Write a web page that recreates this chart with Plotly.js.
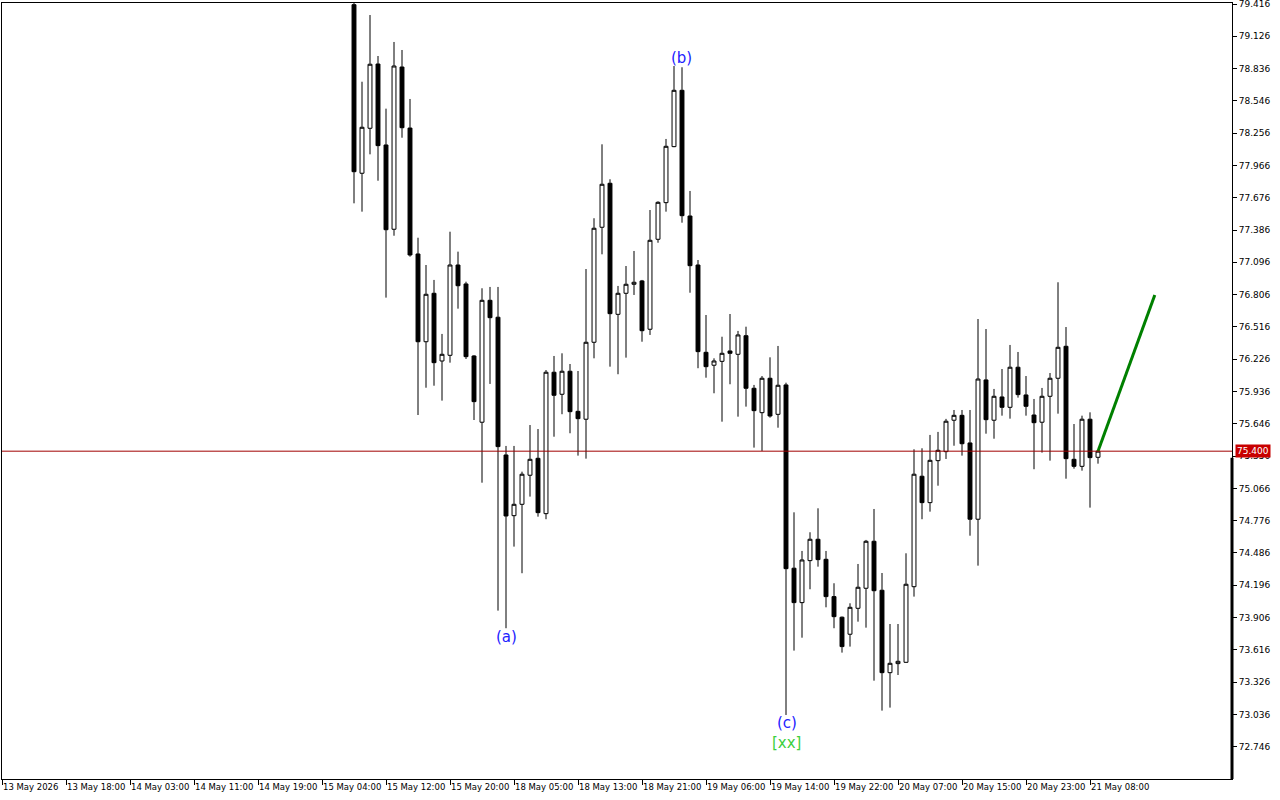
<!DOCTYPE html>
<html>
<head>
<meta charset="utf-8">
<script src="https://cdn.plot.ly/plotly-3.0.1.min.js"></script>
<style>
  html, body { margin: 0; padding: 0; background: #ffffff; }
  #chart { width: 1280px; height: 800px; }
</style>
</head>
<body>
<div id="chart"></div>
<script>
// ---- Hourly OHLC bars, 15 May 08:00 -> 21 May 09:00 (bar index 0..93) ----
const openP = [
  79.410, 77.896, 78.300, 78.877, 78.150, 77.393, 78.850, 78.302, 77.171, 76.383,
  76.818, 76.210, 76.261, 77.072, 76.902, 76.255, 75.660, 76.755, 76.603, 75.366,
  74.821, 74.923, 75.184, 75.336, 74.839, 76.109, 75.911, 76.118, 75.758, 75.687,
  76.378, 77.411, 77.806, 76.629, 76.818, 76.899, 76.929, 76.495, 77.303, 77.632,
  78.135, 78.641, 77.512, 77.072, 76.288, 76.172, 76.207, 76.300, 76.270, 76.437,
  75.965, 75.746, 76.055, 75.731, 75.995, 74.349, 74.040, 74.417, 74.609, 74.429,
  74.094, 73.909, 73.756, 73.989, 74.169, 74.591, 74.151, 73.411, 73.492, 73.504,
  74.183, 75.175, 74.938, 75.315, 75.396, 75.678, 75.722, 75.474, 74.789, 76.040,
  75.678, 75.887, 75.794, 76.154, 75.905, 75.725, 75.660, 75.893, 76.055, 76.342,
  75.327, 75.264, 75.687, 75.345
];
const highP = [
  79.450, 78.718, 79.317, 78.949, 78.476, 79.075, 79.003, 78.563, 77.317, 77.072,
  76.938, 76.453, 77.371, 77.192, 76.922, 76.262, 76.863, 76.875, 76.875, 75.447,
  75.447, 75.216, 75.635, 75.599, 76.129, 76.255, 76.279, 76.183, 76.120, 77.036,
  77.492, 78.156, 77.842, 76.884, 77.063, 77.198, 76.938, 77.566, 77.644, 78.204,
  78.859, 78.848, 77.737, 77.117, 76.623, 76.234, 76.428, 76.632, 76.480, 76.518,
  75.995, 76.075, 76.243, 76.345, 76.015, 74.851, 74.504, 74.672, 74.887, 74.504,
  74.214, 73.915, 74.034, 74.387, 74.603, 74.881, 74.306, 73.848, 73.848, 74.483,
  75.417, 75.426, 75.546, 75.573, 75.690, 75.770, 75.770, 75.770, 76.587, 76.497,
  75.959, 76.138, 76.354, 76.291, 76.075, 75.869, 75.968, 76.102, 76.917, 76.515,
  75.644, 75.719, 75.749, 75.410
];
const lowP = [
  77.626, 77.551, 78.066, 77.829, 76.779, 77.335, 78.215, 77.147, 75.725, 75.970,
  75.988, 75.854, 76.195, 76.680, 76.228, 75.680, 75.117, 76.004, 73.968, 73.810,
  74.543, 74.304, 74.992, 74.812, 74.789, 75.530, 75.732, 75.561, 75.360, 75.333,
  76.234, 77.168, 76.159, 76.091, 76.240, 76.803, 76.383, 76.444, 77.272, 77.551,
  78.130, 77.452, 76.823, 76.145, 76.060, 75.920, 75.665, 76.001, 75.710, 75.800,
  75.432, 75.402, 75.701, 75.611, 73.031, 73.609, 73.725, 74.160, 74.363, 73.998,
  73.810, 73.591, 73.645, 73.869, 73.815, 73.339, 73.070, 73.097, 73.390, 73.500,
  74.094, 74.789, 74.857, 75.090, 75.330, 75.449, 75.360, 74.641, 74.372, 75.557,
  75.512, 75.719, 75.692, 75.881, 75.719, 75.238, 75.387, 75.315, 75.737, 75.153,
  75.243, 75.225, 74.893, 75.288
];
const closeP = [
  77.910, 78.309, 78.875, 78.144, 77.389, 78.859, 78.305, 77.162, 76.383, 76.809,
  76.195, 76.270, 77.072, 76.886, 76.249, 75.845, 76.755, 76.599, 75.441, 74.818,
  74.923, 75.193, 75.327, 74.848, 76.109, 75.902, 76.118, 75.755, 75.692, 76.378,
  77.402, 77.797, 76.635, 76.818, 76.899, 76.917, 76.482, 77.294, 77.635, 78.138,
  78.641, 77.515, 77.066, 76.294, 76.159, 76.210, 76.279, 76.279, 76.444, 75.965,
  75.764, 76.055, 75.716, 75.992, 74.345, 74.040, 74.423, 74.609, 74.426, 74.094,
  73.914, 73.645, 73.998, 74.178, 74.591, 74.147, 73.411, 73.495, 73.513, 74.205,
  75.193, 74.938, 75.318, 75.408, 75.669, 75.722, 75.467, 74.789, 76.048, 75.683,
  75.893, 75.794, 76.154, 75.908, 75.803, 75.656, 75.893, 76.055, 76.333, 75.333,
  75.264, 75.687, 75.342, 75.400
];

// ---- Time axis labels (bar index of each label) ----
const tickBars = [-44, -36, -28, -20, -12, -4, 4, 12, 20, 28, 36, 44, 52, 60, 68, 76, 84, 92];
const tickLabels = [
  "13 May 2026", "13 May 18:00", "14 May 03:00", "14 May 11:00", "14 May 19:00",
  "15 May 04:00", "15 May 12:00", "15 May 20:00", "18 May 05:00", "18 May 13:00",
  "18 May 21:00", "19 May 06:00", "19 May 14:00", "19 May 22:00", "20 May 07:00",
  "20 May 15:00", "20 May 23:00", "21 May 08:00"
];

// ---- Price scale labels ----
const priceTicks = [
  72.746, 73.036, 73.326, 73.616, 73.906, 74.196, 74.486, 74.776, 75.066, 75.356,
  75.646, 75.936, 76.226, 76.516, 76.806, 77.096, 77.386, 77.676, 77.966, 78.256,
  78.546, 78.836, 79.126, 79.416
];

// ---- Wave labels ----
const waveText  = ["(a)", "(b)", "(c)", "[xx]"];
const waveBar   = [19.1, 40.9, 54.1, 54.0];
const wavePrice = [73.731, 78.931, 72.959, 72.779];
const waveColor = ["#2222ff", "#2222ff", "#2222ff", "#3ccf3c"];

// ---- Projected target line ----
const targetBar   = [93, 100.1];
const targetPrice = [75.400, 76.803];

const lastPrice = 75.400;
const markerTop = 75.342;
const yMin = 72.456, yMax = 79.425;

const barIdx = openP.map((_, i) => i);

const traces = [
  {
    type: "candlestick",
    x: barIdx, open: openP, high: highP, low: lowP, close: closeP,
    increasing: { line: { color: "#000000", width: 1 }, fillcolor: "#ffffff" },
    decreasing: { line: { color: "#000000", width: 1 }, fillcolor: "#000000" },
    whiskerwidth: 0,
    hoverinfo: "skip",
    showlegend: false
  },
  {
    type: "scatter", mode: "lines",
    x: targetBar, y: targetPrice,
    line: { color: "#008000", width: 3 },
    hoverinfo: "skip", showlegend: false
  }
];

const annotations = waveText.map((t, i) => ({
  x: waveBar[i], y: wavePrice[i], xref: "x", yref: "y",
  text: t, showarrow: false,
  font: { family: "DejaVu Sans", size: 15, color: waveColor[i] }
}));
annotations.push({
  x: 1, xref: "paper", xanchor: "left", xshift: 3,
  y: lastPrice, yref: "y", yanchor: "middle",
  text: lastPrice.toFixed(3), showarrow: false,
  bgcolor: "#c80000", borderpad: 1,
  font: { family: "DejaVu Sans", size: 9, color: "#ffffff" }
});

const layout = {
  width: 1280, height: 800,
  margin: { l: 2, r: 48, t: 3, b: 21 },
  paper_bgcolor: "#ffffff", plot_bgcolor: "#ffffff",
  boxgap: 0.3, boxgroupgap: 0.3,
  xaxis: {
    range: [-44, 109.75], type: "linear",
    tickvals: tickBars, ticktext: tickLabels,
    tickangle: 0,
    ticks: "outside", ticklen: 5, tickcolor: "#000000", tickwidth: 1,
    ticklabelposition: "outside right",
    ticklabeloverflow: "allow",
    tickfont: { family: "DejaVu Sans", size: 8.5, color: "#000000" },
    showline: true, linecolor: "#000000", linewidth: 1, mirror: true,
    showgrid: false, zeroline: false, rangeslider: { visible: false },
    fixedrange: true
  },
  yaxis: {
    range: [yMin, yMax], side: "right",
    tickvals: priceTicks, ticktext: priceTicks.map(v => v.toFixed(3)),
    ticks: "outside", ticklen: 4, tickcolor: "#000000", tickwidth: 1,
    ticklabeloverflow: "allow",
    tickfont: { family: "DejaVu Sans", size: 9, color: "#000000" },
    showline: true, linecolor: "#000000", linewidth: 1, mirror: true,
    showgrid: false, zeroline: false, fixedrange: true
  },
  shapes: [
    { type: "line", xref: "paper", x0: 0, x1: 1, yref: "y", y0: lastPrice, y1: lastPrice,
      line: { color: "#a00000", width: 1 } },
    { type: "line", xref: "paper", x0: 1, x1: 1, yref: "y", y0: yMin, y1: markerTop,
      line: { color: "#000000", width: 3 } }
  ],
  annotations: annotations,
  showlegend: false
};

Plotly.newPlot("chart", traces, layout, { displayModeBar: false, staticPlot: true });
</script>
</body>
</html>
